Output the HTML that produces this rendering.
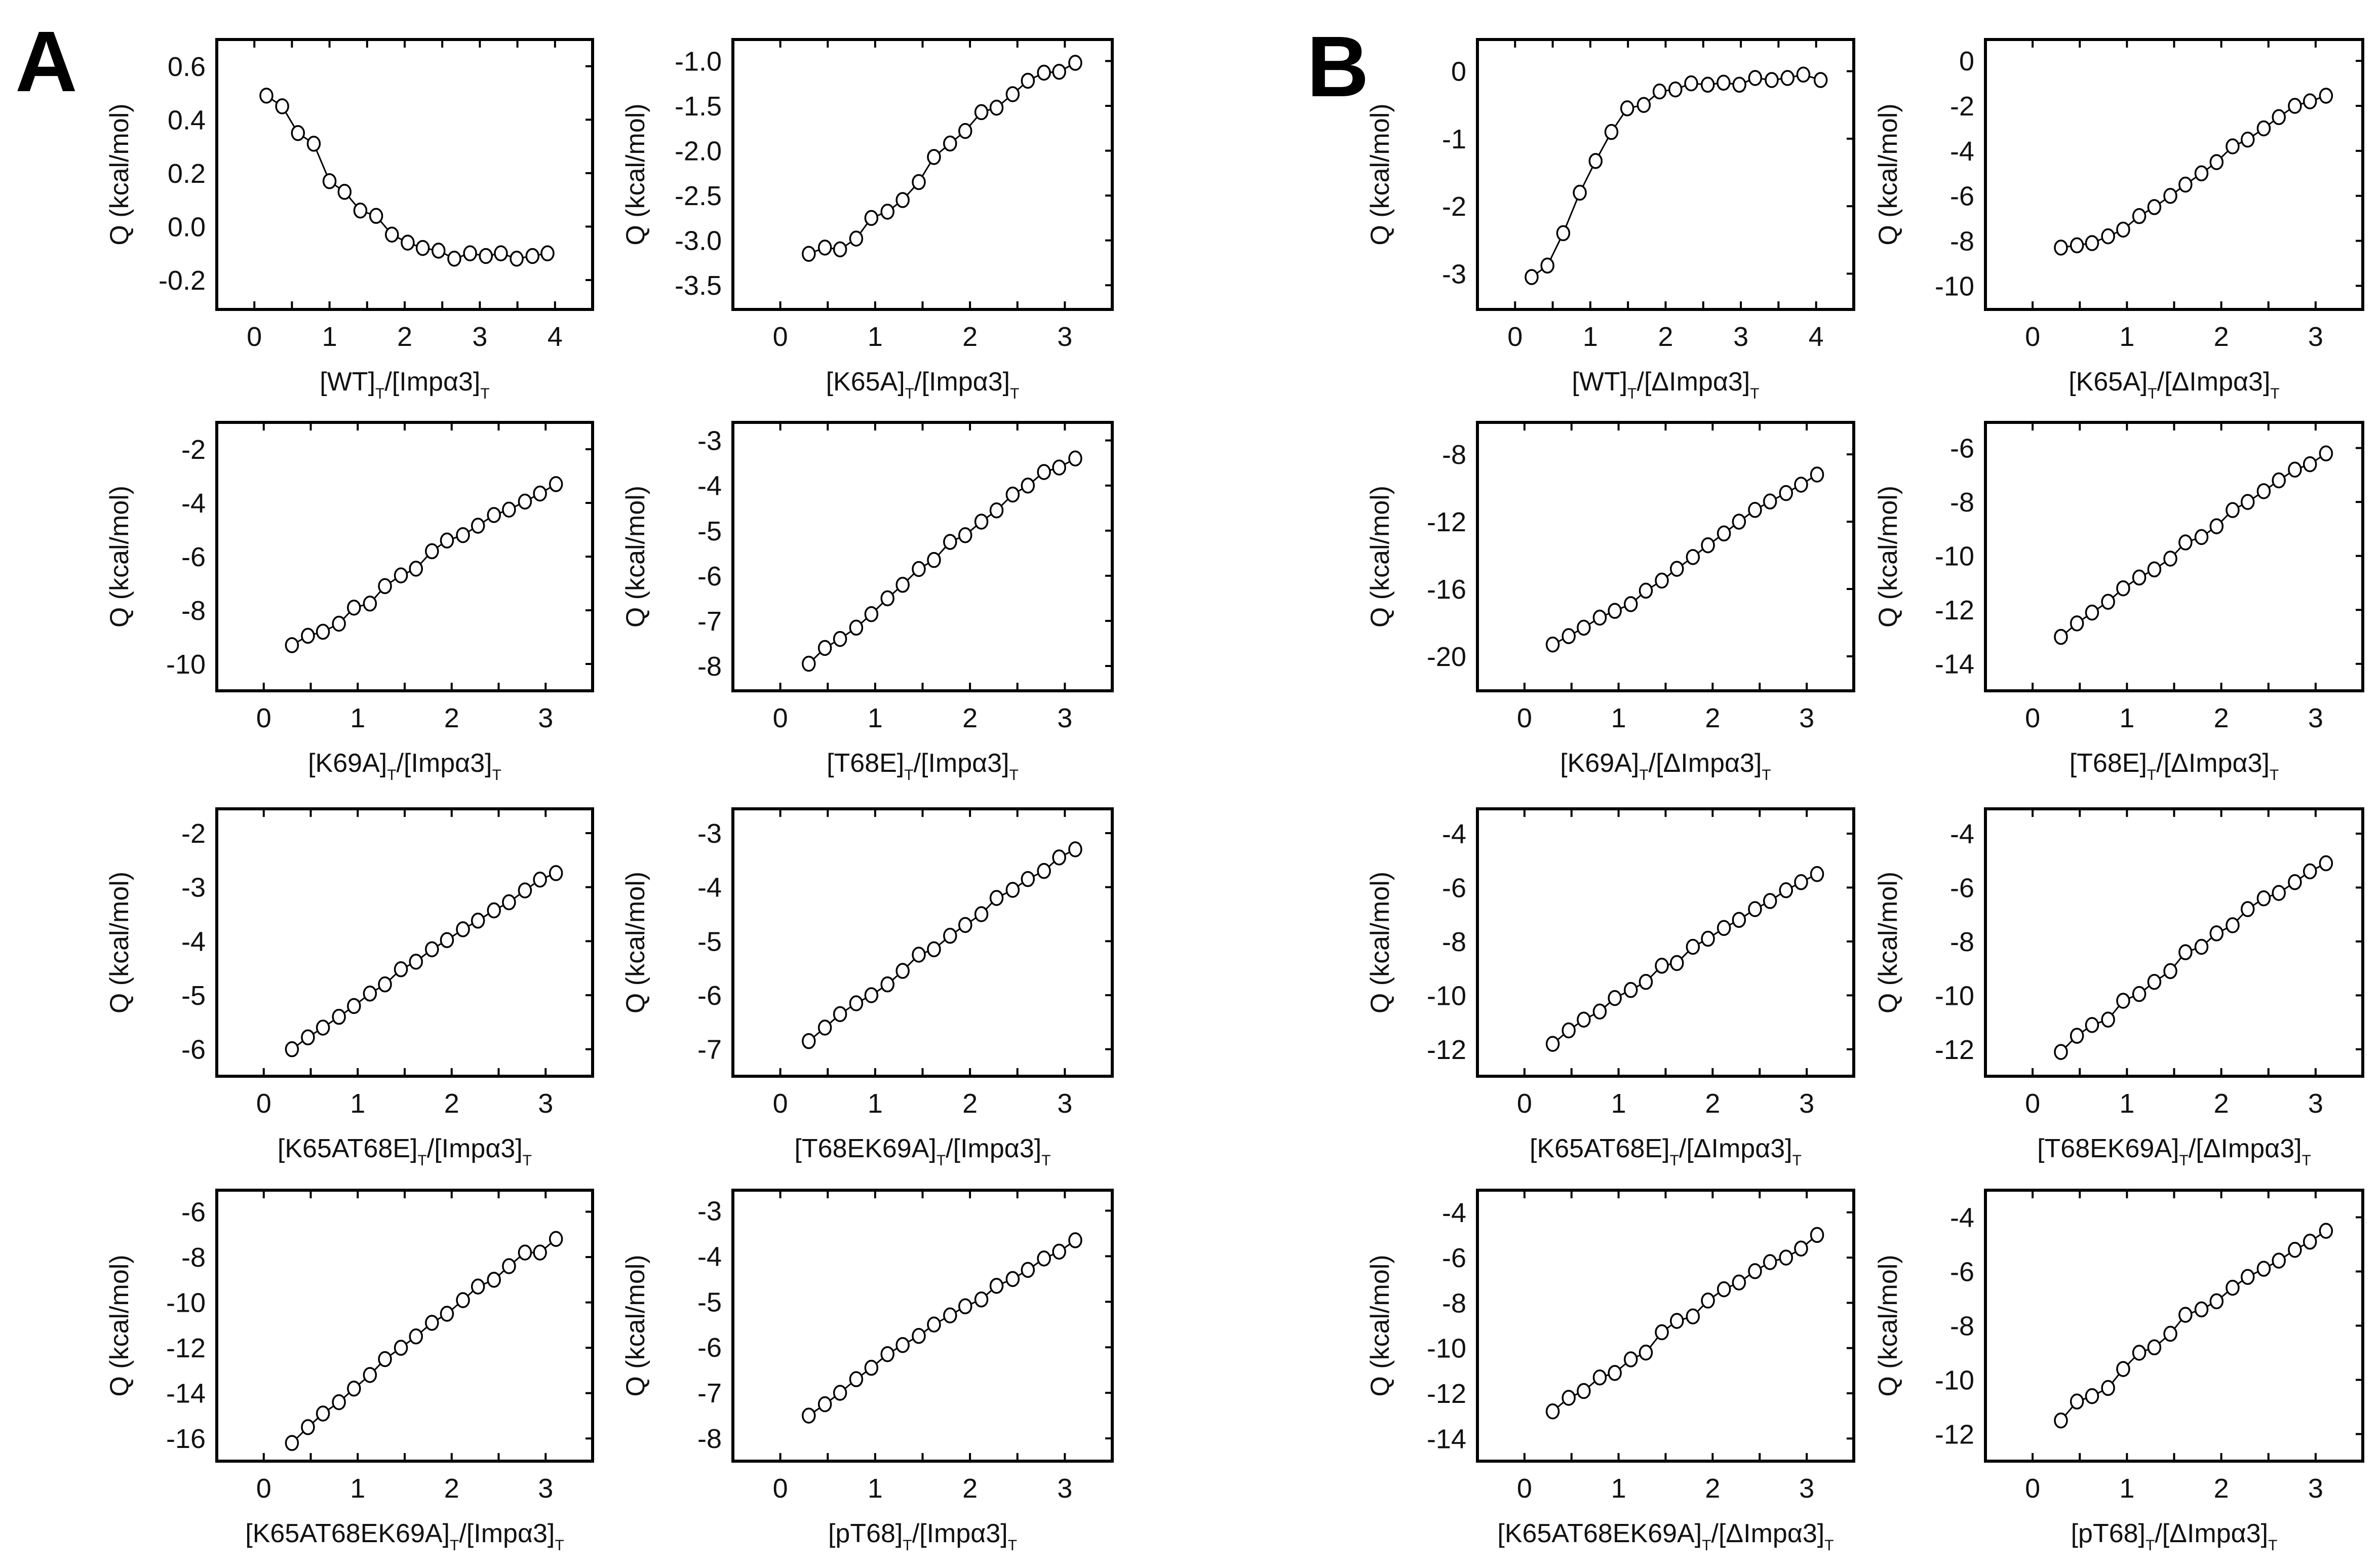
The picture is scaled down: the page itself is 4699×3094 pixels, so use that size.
<!DOCTYPE html>
<html><head><meta charset="utf-8"><style>
html,body{margin:0;padding:0;background:#fff;}
svg{display:block;font-family:"Liberation Sans",sans-serif;}
</style></head><body>
<svg id="fig" width="4699" height="3094" viewBox="0 0 4699 3094" xmlns="http://www.w3.org/2000/svg">
<rect width="4699" height="3094" fill="#fff"/>
<text x="30" y="180" font-size="170" font-weight="bold">A</text>
<text x="2580" y="190" font-size="170" font-weight="bold">B</text>
</svg>
<script>
const xWT_A = [0.16,0.37,0.58,0.79,1.0,1.2,1.41,1.62,1.83,2.04,2.24,2.45,2.66,2.87,3.08,3.28,3.49,3.7,3.9];
const xWT_B = [0.22,0.43,0.64,0.86,1.07,1.28,1.49,1.71,1.92,2.13,2.34,2.56,2.77,2.98,3.19,3.41,3.62,3.83,4.06];
const xStd = [0.3,0.47,0.63,0.8,0.96,1.13,1.29,1.46,1.62,1.79,1.95,2.12,2.28,2.45,2.61,2.78,2.94,3.11];

const yWT_A = [0.49,0.45,0.35,0.31,0.17,0.13,0.06,0.04,-0.03,-0.06,-0.08,-0.09,-0.12,-0.10,-0.11,-0.10,-0.12,-0.11,-0.10];
const yK65A_A = [-3.15,-3.08,-3.1,-2.98,-2.75,-2.68,-2.55,-2.35,-2.07,-1.92,-1.78,-1.57,-1.52,-1.37,-1.22,-1.13,-1.12,-1.02];
const yK69A_A = [-9.3,-8.95,-8.8,-8.5,-7.9,-7.75,-7.1,-6.7,-6.45,-5.8,-5.4,-5.2,-4.85,-4.45,-4.25,-3.95,-3.65,-3.3];
const yT68E_A = [-7.95,-7.6,-7.4,-7.15,-6.85,-6.5,-6.2,-5.85,-5.65,-5.25,-5.1,-4.8,-4.55,-4.2,-4.0,-3.7,-3.6,-3.4];
const yK65AT68E_A = [-6.0,-5.78,-5.6,-5.4,-5.2,-4.97,-4.8,-4.52,-4.38,-4.15,-3.98,-3.78,-3.62,-3.43,-3.28,-3.06,-2.86,-2.74];
const yT68EK69A_A = [-6.85,-6.6,-6.35,-6.15,-6.0,-5.8,-5.55,-5.25,-5.15,-4.9,-4.7,-4.5,-4.2,-4.05,-3.85,-3.7,-3.45,-3.3];
const yTriple_A = [-16.2,-15.5,-14.9,-14.4,-13.8,-13.2,-12.5,-12.0,-11.5,-10.9,-10.5,-9.9,-9.3,-9.0,-8.4,-7.8,-7.8,-7.2];
const ypT68_A = [-7.5,-7.25,-7.0,-6.7,-6.45,-6.15,-5.95,-5.75,-5.5,-5.3,-5.1,-4.95,-4.65,-4.5,-4.3,-4.05,-3.9,-3.65];
const yWT_B = [-3.05,-2.88,-2.4,-1.8,-1.33,-0.9,-0.55,-0.5,-0.3,-0.27,-0.18,-0.2,-0.17,-0.2,-0.1,-0.13,-0.1,-0.05,-0.13];
const yK65A_B = [-8.3,-8.2,-8.1,-7.8,-7.5,-6.9,-6.5,-6.0,-5.5,-5.0,-4.5,-3.8,-3.5,-3.0,-2.5,-2.0,-1.8,-1.55];
const yK69A_B = [-19.3,-18.8,-18.3,-17.7,-17.3,-16.9,-16.1,-15.5,-14.8,-14.1,-13.4,-12.7,-12.0,-11.3,-10.8,-10.3,-9.8,-9.2];
const yT68E_B = [-13.0,-12.5,-12.1,-11.7,-11.2,-10.8,-10.5,-10.1,-9.5,-9.3,-8.9,-8.3,-8.0,-7.6,-7.2,-6.8,-6.6,-6.2];
const yK65AT68E_B = [-11.8,-11.3,-10.9,-10.6,-10.1,-9.8,-9.5,-8.9,-8.8,-8.2,-7.9,-7.5,-7.2,-6.8,-6.5,-6.1,-5.8,-5.5];
const yT68EK69A_B = [-12.1,-11.5,-11.1,-10.9,-10.2,-9.95,-9.5,-9.1,-8.4,-8.2,-7.7,-7.4,-6.8,-6.4,-6.2,-5.8,-5.4,-5.1];
const yTriple_B = [-12.8,-12.2,-11.9,-11.3,-11.1,-10.5,-10.2,-9.3,-8.8,-8.6,-7.9,-7.4,-7.1,-6.6,-6.2,-6.0,-5.6,-5.0];
const ypT68_B = [-11.5,-10.8,-10.6,-10.3,-9.6,-9.0,-8.8,-8.3,-7.6,-7.4,-7.1,-6.6,-6.2,-5.9,-5.6,-5.2,-4.9,-4.5];

const yTicksWT_A = [-0.2,0.0,0.2,0.4,0.6];
const yTickLabelsWT_A = ["-0.2","0.0","0.2","0.4","0.6"];
const yTicksK65A_A = [-3.5,-3.0,-2.5,-2.0,-1.5,-1.0];
const yTickLabelsK65A_A = ["-3.5","-3.0","-2.5","-2.0","-1.5","-1.0"];

const NS="http://www.w3.org/2000/svg";
const svg=document.getElementById('fig');
const cols=[[428,1170],[1447,2196],[2917,3660],[3920,4665]];
const rows=[[78,611],[834,1364],[1597,2125],[2350,2885]];

function mk(tag,attrs,parent){const e=document.createElementNS(NS,tag);for(const k in attrs)e.setAttribute(k,attrs[k]);(parent||svg).appendChild(e);return e;}
function fmt(v){return String(v);}

const panels=[
 {c:0,r:0,name:'wt-imp',xs:xWT_A,ys:yWT_A,xr:[-0.5,4.5],yr:[-0.31,0.7],xt:[0,1,2,3,4],yt:yTicksWT_A,ytl:yTickLabelsWT_A,lab:['[WT]','/[Impα3]']},
 {c:1,r:0,name:'k65a-imp',xs:xStd,ys:yK65A_A,xr:[-0.5,3.5],yr:[-3.77,-0.76],xt:[0,1,2,3],yt:yTicksK65A_A,ytl:yTickLabelsK65A_A,lab:['[K65A]','/[Impα3]']},
 {c:0,r:1,name:'k69a-imp',xs:xStd,ys:yK69A_A,xr:[-0.5,3.5],yr:[-11,-1],xt:[0,1,2,3],yt:[-10,-8,-6,-4,-2],lab:['[K69A]','/[Impα3]']},
 {c:1,r:1,name:'t68e-imp',xs:xStd,ys:yT68E_A,xr:[-0.5,3.5],yr:[-8.55,-2.6],xt:[0,1,2,3],yt:[-8,-7,-6,-5,-4,-3],lab:['[T68E]','/[Impα3]']},
 {c:0,r:2,name:'k65at68e-imp',xs:xStd,ys:yK65AT68E_A,xr:[-0.5,3.5],yr:[-6.5,-1.55],xt:[0,1,2,3],yt:[-6,-5,-4,-3,-2],lab:['[K65AT68E]','/[Impα3]']},
 {c:1,r:2,name:'t68ek69a-imp',xs:xStd,ys:yT68EK69A_A,xr:[-0.5,3.5],yr:[-7.5,-2.55],xt:[0,1,2,3],yt:[-7,-6,-5,-4,-3],lab:['[T68EK69A]','/[Impα3]']},
 {c:0,r:3,name:'k65at68ek69a-imp',xs:xStd,ys:yTriple_A,xr:[-0.5,3.5],yr:[-17,-5.05],xt:[0,1,2,3],yt:[-16,-14,-12,-10,-8,-6],lab:['[K65AT68EK69A]','/[Impα3]']},
 {c:1,r:3,name:'pt68-imp',xs:xStd,ys:ypT68_A,xr:[-0.5,3.5],yr:[-8.5,-2.55],xt:[0,1,2,3],yt:[-8,-7,-6,-5,-4,-3],lab:['[pT68]','/[Impα3]']},
 {c:2,r:0,name:'wt-dimp',xs:xWT_B,ys:yWT_B,xr:[-0.5,4.5],yr:[-3.53,0.47],xt:[0,1,2,3,4],yt:[-3,-2,-1,0],lab:['[WT]','/[ΔImpα3]']},
 {c:3,r:0,name:'k65a-dimp',xs:xStd,ys:yK65A_B,xr:[-0.5,3.5],yr:[-11.05,0.95],xt:[0,1,2,3],yt:[-10,-8,-6,-4,-2,0],lab:['[K65A]','/[ΔImpα3]']},
 {c:2,r:1,name:'k69a-dimp',xs:xStd,ys:yK69A_B,xr:[-0.5,3.5],yr:[-22.05,-6.1],xt:[0,1,2,3],yt:[-20,-16,-12,-8],lab:['[K69A]','/[ΔImpα3]']},
 {c:3,r:1,name:'t68e-dimp',xs:xStd,ys:yT68E_B,xr:[-0.5,3.5],yr:[-15,-5.05],xt:[0,1,2,3],yt:[-14,-12,-10,-8,-6],lab:['[T68E]','/[ΔImpα3]']},
 {c:2,r:2,name:'k65at68e-dimp',xs:xStd,ys:yK65AT68E_B,xr:[-0.5,3.5],yr:[-13,-3.08],xt:[0,1,2,3],yt:[-12,-10,-8,-6,-4],lab:['[K65AT68E]','/[ΔImpα3]']},
 {c:3,r:2,name:'t68ek69a-dimp',xs:xStd,ys:yT68EK69A_B,xr:[-0.5,3.5],yr:[-13,-3.08],xt:[0,1,2,3],yt:[-12,-10,-8,-6,-4],lab:['[T68EK69A]','/[ΔImpα3]']},
 {c:2,r:3,name:'k65at68ek69a-dimp',xs:xStd,ys:yTriple_B,xr:[-0.5,3.5],yr:[-15,-3.02],xt:[0,1,2,3],yt:[-14,-12,-10,-8,-6,-4],lab:['[K65AT68EK69A]','/[ΔImpα3]']},
 {c:3,r:3,name:'pt68-dimp',xs:xStd,ys:ypT68_B,xr:[-0.5,3.5],yr:[-13,-3],xt:[0,1,2,3],yt:[-12,-10,-8,-6,-4],lab:['[pT68]','/[ΔImpα3]']}
];

panels.forEach(p=>{
  const [x0,x1]=cols[p.c],[y0,y1]=rows[p.r];
  const sx=v=>x0+(v-p.xr[0])/(p.xr[1]-p.xr[0])*(x1-x0);
  const sy=v=>y1-(v-p.yr[0])/(p.yr[1]-p.yr[0])*(y1-y0);
  const g=mk('g',{});
  
  
  const box=mk('rect',{x:x0,y:y0,width:x1-x0,height:y1-y0,fill:'none',stroke:'#000','stroke-width':6},g);
  
  
  const tk=mk('g',{stroke:'#000','stroke-width':4},g);
  
  
  const xmax=p.xt[p.xt.length-1];
  for(let v=0; v<=xmax+0.01; v+=0.5){
    const X=sx(v);
    mk('line',{x1:X,y1:y1,x2:X,y2:y1-16},tk);
    mk('line',{x1:X,y1:y0,x2:X,y2:y0+16},tk);
  }
  p.yt.forEach(v=>{const Y=sy(v);mk('line',{x1:x1,y1:Y,x2:x1-14,y2:Y},tk);});
  p.xt.forEach(v=>{
    const t=mk('text',{x:sx(v),y:y1+72,'font-size':54,'text-anchor':'middle',fill:'#111'},g);
    t.textContent=fmt(v);
    
    
  });
  p.yt.forEach((v,i)=>{
    const t=mk('text',{x:x0-22,y:sy(v)+19,'font-size':54,'text-anchor':'end',fill:'#111'},g);
    t.textContent=p.ytl?p.ytl[i]:fmt(v);
    
    
  });
  const yc=(y0+y1)/2, yx=x0-175;
  const yt=mk('text',{x:yx,y:yc,'font-size':52,'text-anchor':'middle',fill:'#111',transform:`rotate(-90 ${yx} ${yc})`},g);
  yt.textContent='Q (kcal/mol)';
  
  
  const xt=mk('text',{x:(x0+x1)/2,y:y1+160,'font-size':52,'text-anchor':'middle',fill:'#111'},g);
  
  
  const parts=[[p.lab[0],0],['T',1],[p.lab[1],0],['T',1]];
  parts.forEach(([s,sub])=>{
    const ts=mk('tspan',{},xt);
    if(sub){ts.setAttribute('font-size','30');ts.setAttribute('dy','16');}
    else{ts.setAttribute('dy', xt.childNodes.length>1?'-16':'0');}
    ts.textContent=s;
  });
  const pts=p.xs.map((x,i)=>sx(x)+','+sy(p.ys[i])).join(' ');
  const line=mk('polyline',{points:pts,fill:'none',stroke:'#000','stroke-width':3},g);
  
  
  p.xs.forEach((x,i)=>{
    const m=mk('ellipse',{cx:sx(x),cy:sy(p.ys[i]),rx:12,ry:14,fill:'#fff',stroke:'#000','stroke-width':3.5},g);
    
    
  });
});
</script>
</body></html>
